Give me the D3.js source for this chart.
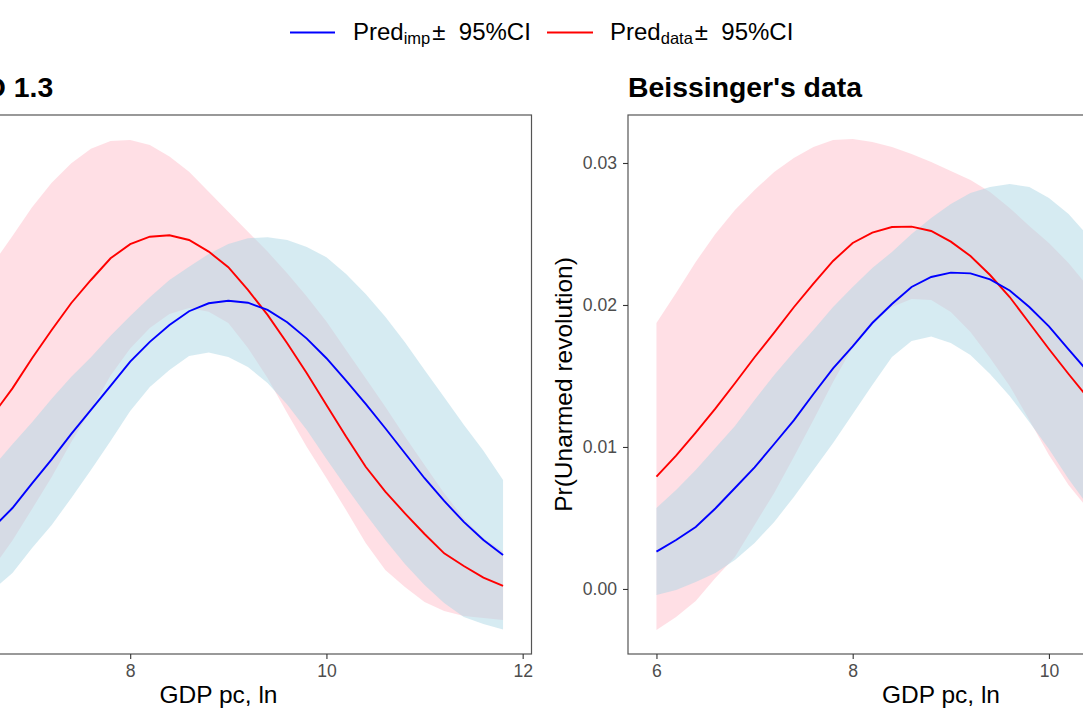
<!DOCTYPE html>
<html><head><meta charset="utf-8">
<script src="https://cdn.jsdelivr.net/npm/d3@7"></script>
<style>
body{margin:0;background:#fff;}
svg{display:block;font-family:"Liberation Sans",Arial,Helvetica,sans-serif;}
</style>
</head><body>
<svg id="chart" width="1083" height="722"></svg>
<script>
// ---- data ----
const gdp = [6.0,6.2,6.4,6.6,6.8,7.0,7.2,7.4,7.6,7.8,8.0,8.2,8.4,8.6,8.8,9.0,9.2,9.4,9.6,9.8,10.0,10.2,10.4,10.6,10.8,11.0,11.2,11.4,11.6,11.8];

// Left panel: NAVCO 1.3
const navcoImpPred = [0.00099,0.00204,0.00310,0.00430,0.00570,0.00744,0.00913,0.01092,0.01261,0.01430,0.01601,0.01740,0.01859,0.01956,0.02012,0.02030,0.02016,0.01965,0.01878,0.01763,0.01625,0.01467,0.01303,0.01132,0.00956,0.00780,0.00620,0.00472,0.00345,0.00239];
const navcoImpLo = [-0.00282,-0.00183,-0.00099,-0.00007,0.00113,0.00289,0.00451,0.00641,0.00838,0.01042,0.01254,0.01423,0.01542,0.01641,0.01665,0.01634,0.01563,0.01451,0.01299,0.01120,0.00916,0.00718,0.00528,0.00345,0.00176,0.00028,-0.00099,-0.00197,-0.00246,-0.00285];
const navcoImpHi = [0.00479,0.00592,0.00718,0.00859,0.01019,0.01174,0.01340,0.01495,0.01632,0.01784,0.01923,0.02054,0.02176,0.02270,0.02359,0.02430,0.02470,0.02477,0.02458,0.02409,0.02336,0.02218,0.02078,0.01918,0.01737,0.01542,0.01350,0.01157,0.00974,0.00768];
const navcoDataPred = [0.00697,0.00866,0.01042,0.01225,0.01413,0.01625,0.01824,0.02014,0.02176,0.02329,0.02428,0.02481,0.02491,0.02458,0.02376,0.02266,0.02106,0.01930,0.01730,0.01519,0.01296,0.01073,0.00861,0.00685,0.00533,0.00387,0.00251,0.00162,0.00080,0.00021];
const navcoDataLo = [-0.00218,-0.00113,0.00007,0.00148,0.00341,0.00563,0.00789,0.01035,0.01261,0.01503,0.01693,0.01838,0.01937,0.01979,0.01953,0.01873,0.01697,0.01486,0.01240,0.01000,0.00782,0.00556,0.00324,0.00134,0.00014,-0.00092,-0.00155,-0.00190,-0.00204,-0.00218];
const navcoDataHi = [0.01613,0.01859,0.02078,0.02289,0.02486,0.02688,0.02861,0.02998,0.03101,0.03155,0.03162,0.03127,0.03045,0.02939,0.02798,0.02657,0.02516,0.02376,0.02223,0.02059,0.01883,0.01683,0.01484,0.01284,0.01073,0.00873,0.00674,0.00498,0.00359,0.00263];

// Right panel: Beissinger's data
const beisImpPred = [0.00263,0.00345,0.00437,0.00567,0.00711,0.00856,0.01021,0.01187,0.01373,0.01553,0.01708,0.01873,0.02007,0.02127,0.02197,0.02228,0.02223,0.02180,0.02102,0.01986,0.01849,0.01687,0.01528,0.01359,0.01197,0.01042,0.00901,0.00775,0.00662,0.00563];
const beisImpLo = [-0.00042,-0.00007,0.00049,0.00113,0.00204,0.00324,0.00472,0.00648,0.00838,0.01028,0.01232,0.01437,0.01634,0.01747,0.01778,0.01733,0.01648,0.01514,0.01359,0.01176,0.00986,0.00775,0.00585,0.00394,0.00232,0.00099,-0.00007,-0.00077,-0.00134,-0.00176];
const beisImpHi = [0.00570,0.00697,0.00838,0.00993,0.01148,0.01331,0.01507,0.01669,0.01824,0.01986,0.02127,0.02261,0.02373,0.02500,0.02613,0.02711,0.02789,0.02831,0.02852,0.02831,0.02754,0.02641,0.02486,0.02317,0.02134,0.01951,0.01768,0.01599,0.01437,0.01296];
const beisDataPred = [0.00791,0.00939,0.01101,0.01270,0.01449,0.01632,0.01805,0.01984,0.02150,0.02310,0.02437,0.02509,0.02549,0.02552,0.02521,0.02446,0.02345,0.02211,0.02056,0.01873,0.01690,0.01514,0.01345,0.01183,0.01035,0.00901,0.00789,0.00690,0.00613,0.00549];
const beisDataLo = [-0.00289,-0.00197,-0.00085,0.00077,0.00225,0.00451,0.00676,0.00930,0.01190,0.01458,0.01704,0.01873,0.01986,0.02042,0.02035,0.01951,0.01810,0.01627,0.01430,0.01190,0.00944,0.00732,0.00563,0.00416,0.00303,0.00218,0.00162,0.00120,0.00106,0.00099];
const beisDataHi = [0.01873,0.02085,0.02303,0.02500,0.02669,0.02810,0.02937,0.03035,0.03113,0.03162,0.03169,0.03148,0.03113,0.03064,0.03007,0.02944,0.02881,0.02796,0.02683,0.02557,0.02437,0.02296,0.02127,0.01951,0.01768,0.01585,0.01416,0.01261,0.01120,0.01000];

const leftXTicks = [8, 10, 12];   // ticks visible inside the frame
const rightXTicks = [6, 8, 10];
const yTicks = [0, 0.01, 0.02, 0.03];
const yTickLabels = ["0.00", "0.01", "0.02", "0.03"];
const panelTitles = ["NAVCO 1.3", "Beissinger's data"];
const xAxisTitle = "GDP pc, ln";
const yAxisTitle = "Pr(Unarmed revolution)";
const legendMain = ["Pred", "Pred"];
const legendSub = ["imp", "data"];
const legendRest = ["\u00B1  95%CI", "\u00B1  95%CI"];
const seriesColors = ["#0000FF", "#FF0000"];
const bandColors = ["#ADD8E6", "#FFC0CB"];

// ---- layout ----
const svg = d3.select("#chart");
const plotTop = 115, plotBottom = 654;
const xDomain = [5.71, 12.09];
const yDomain = [-0.00458, 0.03338];
const fontFam = "'Liberation Sans',Arial,sans-serif";

const panels = [
  {x0: -94.5, x1: 531.5, title: panelTitles[0], xTicks: leftXTicks, showY: false,
   imp: navcoImpPred, impLo: navcoImpLo, impHi: navcoImpHi,
   dat: navcoDataPred, datLo: navcoDataLo, datHi: navcoDataHi},
  {x0: 628, x1: 1254, title: panelTitles[1], xTicks: rightXTicks, showY: true,
   imp: beisImpPred, impLo: beisImpLo, impHi: beisImpHi,
   dat: beisDataPred, datLo: beisDataLo, datHi: beisDataHi}
];

panels.forEach(p => {
  const x = d3.scaleLinear().domain(xDomain).range([p.x0, p.x1]);
  const y = d3.scaleLinear().domain(yDomain).range([plotBottom, plotTop]);
  const g = svg.append("g");

  const area = (lo, hi) => d3.area()
    .x((d, i) => x(gdp[i]))
    .y0((d, i) => y(lo[i]))
    .y1((d, i) => y(hi[i]))(gdp);
  const line = vals => d3.line()
    .x((d, i) => x(gdp[i]))
    .y((d, i) => y(vals[i]))(gdp);

  g.append("path").attr("d", area(p.datLo, p.datHi))
    .attr("fill", bandColors[1]).attr("fill-opacity", 0.5);
  g.append("path").attr("d", area(p.impLo, p.impHi))
    .attr("fill", bandColors[0]).attr("fill-opacity", 0.5);
  g.append("path").attr("d", line(p.dat)).attr("fill", "none")
    .attr("stroke", seriesColors[1]).attr("stroke-width", 1.9);
  g.append("path").attr("d", line(p.imp)).attr("fill", "none")
    .attr("stroke", seriesColors[0]).attr("stroke-width", 1.9);

  g.append("rect").attr("x", p.x0).attr("y", plotTop)
    .attr("width", p.x1 - p.x0).attr("height", plotBottom - plotTop)
    .attr("fill", "none").attr("stroke", "#555").attr("stroke-width", 1.2);

  const xa = g.append("g").attr("transform", `translate(0,${plotBottom})`)
    .call(d3.axisBottom(x).tickValues(p.xTicks).tickFormat(d3.format("d")).tickSize(5).tickPadding(6));
  xa.select(".domain").remove();
  xa.selectAll(".tick line").attr("stroke", "#333").attr("stroke-width", 1.1);
  xa.selectAll(".tick text").attr("fill", "#4D4D4D").style("font-size", "17.6px")
    .style("font-family", fontFam);

  if (p.showY) {
    const ya = g.append("g").attr("transform", `translate(${p.x0},0)`)
      .call(d3.axisLeft(y).tickValues(yTicks).tickFormat((d, i) => yTickLabels[i]).tickSize(5).tickPadding(6));
    ya.select(".domain").remove();
    ya.selectAll(".tick line").attr("stroke", "#333").attr("stroke-width", 1.1);
    ya.selectAll(".tick text").attr("fill", "#4D4D4D").style("font-size", "17.6px")
      .style("font-family", fontFam);

    g.append("text")
      .attr("transform", `translate(${p.x0 - 56},${(plotTop + plotBottom) / 2}) rotate(-90)`)
      .attr("text-anchor", "middle").style("font-size", "24.5px").attr("fill", "#000")
      .text(yAxisTitle);
  }

  g.append("text").attr("x", (p.x0 + p.x1) / 2).attr("y", 703)
    .attr("text-anchor", "middle").style("font-size", "24.5px").attr("fill", "#000")
    .text(xAxisTitle);

  g.append("text").attr("x", p.x0).attr("y", 97)
    .style("font-size", "28.4px").style("font-weight", "bold").attr("fill", "#000")
    .text(p.title);
});

// ---- legend ----
const legendItems = [
  {lx0: 290, lx1: 335, tx: 353},
  {lx0: 547, lx1: 593, tx: 610}
];
legendItems.forEach((it, i) => {
  svg.append("line").attr("x1", it.lx0).attr("x2", it.lx1)
    .attr("y1", 32.5).attr("y2", 32.5)
    .attr("stroke", seriesColors[i]).attr("stroke-width", 1.9);
  const t = svg.append("text").attr("x", it.tx).attr("y", 40)
    .style("font-size", "24px").style("white-space", "pre").attr("fill", "#000");
  t.append("tspan").text(legendMain[i]);
  t.append("tspan").attr("dy", 4).style("font-size", "16.5px").text(legendSub[i]);
  t.append("tspan").attr("dy", -4).attr("dx", 2).style("font-size", "24px").text(legendRest[i]);
});
</script>
</body></html>
